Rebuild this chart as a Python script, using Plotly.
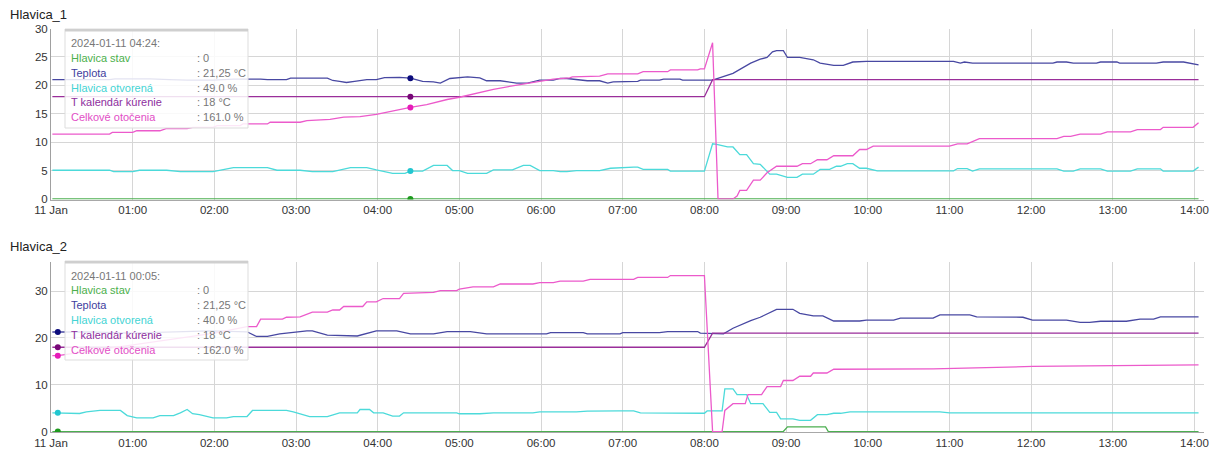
import plotly.graph_objects as go

DATE = "2024-01-11"
SERIES_NAMES = ["Hlavica stav", "Teplota", "Hlavica otvorená", "T kalendár kúrenie", "Celkové otočenia"]
TICK_TIMES = ["00:00", "01:00", "02:00", "03:00", "04:00", "05:00", "06:00", "07:00",
              "08:00", "09:00", "10:00", "11:00", "12:00", "13:00", "14:00"]
TICK_TEXT = ["11 Jan", "01:00", "02:00", "03:00", "04:00", "05:00", "06:00", "07:00",
             "08:00", "09:00", "10:00", "11:00", "12:00", "13:00", "14:00"]
X_START = "00:00"
X_END = "14:07"

# ---------------- Hlavica_1 ----------------
H1_STAV_T = ["00:01", "14:03"]
H1_STAV_V = [0, 0]

H1_TEPLOTA_T = ["00:01", "00:43", "00:47", "01:13", "01:27", "01:40", "01:59", "02:14", "02:34", "02:39",
                "02:53", "02:56", "03:23", "03:27", "03:32", "03:37", "03:43", "03:52", "03:59", "04:05",
                "04:16", "04:24", "04:33", "04:41", "04:46", "04:53", "05:06", "05:15", "05:20", "05:30",
                "05:42", "05:50", "05:59", "06:09", "06:14", "06:19", "06:34", "06:43", "06:49", "06:53",
                "07:11", "07:13", "07:27", "07:30", "07:42", "07:44", "08:06", "08:21", "08:34", "08:41",
                "08:46", "08:50", "08:53", "08:58", "09:01", "09:10", "09:20", "09:25", "09:35", "09:42",
                "09:49", "09:59", "11:03", "11:08", "11:11", "11:17", "12:16", "12:19", "12:26", "12:31",
                "12:48", "12:51", "13:03", "13:05", "13:32", "13:37", "13:52", "14:03"]
H1_TEPLOTA_V = [21.0, 21.0, 21.15, 21.15, 21.0, 20.9, 20.9, 21.1, 21.1, 21.0,
                21.0, 21.25, 21.25, 20.85, 20.7, 20.5, 20.7, 21.0, 21.0, 21.35,
                21.4, 21.25, 20.7, 20.6, 20.4, 21.2, 21.5, 21.3, 20.8, 20.8,
                20.4, 20.4, 20.9, 20.9, 21.2, 21.2, 20.8, 20.8, 20.4, 20.6,
                20.7, 20.9, 20.9, 21.1, 21.1, 20.9, 20.9, 22.1, 23.9, 24.6,
                24.9, 25.9, 26.1, 26.1, 24.9, 24.9, 24.5, 23.9, 23.5, 23.5,
                24.1, 24.2, 24.2, 23.9, 24.1, 23.9, 23.9, 24.1, 24.1, 23.9,
                23.9, 24.1, 24.1, 23.9, 23.9, 24.1, 24.1, 23.6]

H1_OTV_T = ["00:01", "00:43", "00:46", "01:00", "01:05", "01:25", "01:35", "01:59", "02:14", "02:39",
            "02:46", "03:03", "03:12", "03:27", "03:40", "03:52", "03:59", "04:11", "04:20", "04:24",
            "04:33", "04:41", "04:51", "04:55", "05:00", "05:06", "05:20", "05:25", "05:39", "05:47",
            "05:52", "05:59", "06:09", "06:14", "06:19", "06:26", "06:43", "06:51", "07:08", "07:11",
            "07:15", "07:33", "07:35", "08:00", "08:06", "08:09", "08:17", "08:21", "08:26", "08:31",
            "08:36", "08:41", "08:48", "08:53", "09:01", "09:08", "09:12", "09:20", "09:25", "09:32",
            "09:37", "09:40", "09:45", "09:49", "09:54", "09:59", "10:07", "11:03", "11:06", "11:13",
            "11:17", "11:22", "12:19", "12:24", "12:31", "12:36", "12:51", "12:56", "13:13", "13:18",
            "13:35", "13:37", "13:59", "14:03"]
H1_OTV_V = [5.05, 5.05, 4.8, 4.8, 5.05, 5.05, 4.8, 4.8, 5.5, 5.5,
            5.05, 5.05, 4.8, 4.8, 5.5, 5.5, 5.1, 4.5, 4.5, 4.9,
            4.9, 5.9, 5.9, 5.0, 5.0, 4.5, 4.5, 5.1, 5.1, 5.9,
            5.9, 5.0, 5.0, 4.8, 4.8, 5.0, 5.0, 5.4, 5.6, 5.6,
            5.2, 5.2, 4.9, 4.9, 9.7, 9.6, 9.15, 9.15, 7.8, 7.8,
            6.2, 6.1, 4.35, 4.35, 3.8, 3.8, 4.35, 4.35, 5.2, 5.2,
            5.75, 5.75, 6.2, 6.2, 5.4, 5.4, 4.95, 4.95, 5.35, 5.35,
            4.9, 5.3, 5.3, 4.9, 4.9, 5.3, 5.3, 4.9, 4.9, 5.3,
            5.3, 4.9, 4.9, 5.6]

H1_TKAL_T = ["00:01", "08:00", "08:06", "14:03"]
H1_TKAL_V = [18, 18, 21, 21]

H1_CELK_T = ["00:01", "00:43", "00:45", "01:00", "01:03", "01:20", "01:25", "01:40", "01:44", "01:59",
             "02:02", "02:19", "02:21", "02:39", "02:41", "03:03", "03:08", "03:25", "03:35", "03:47",
             "03:59", "04:09", "04:24", "04:36", "04:51", "05:00", "05:13", "05:25", "05:39", "05:54",
             "06:09", "06:21", "06:23", "06:43", "06:49", "07:11", "07:15", "07:33", "07:35", "07:55",
             "07:57", "08:00", "08:06", "08:10", "08:21", "08:24", "08:26", "08:31", "08:36", "08:41",
             "08:46", "08:53", "09:08", "09:12", "09:18", "09:23", "09:30", "09:35", "09:49", "09:54",
             "09:59", "10:04", "11:00", "11:06", "11:13", "11:22", "12:19", "12:24", "12:29", "12:36",
             "12:51", "12:56", "13:13", "13:18", "13:35", "13:37", "13:59", "14:03"]
H1_CELK_V = [11.4, 11.4, 11.7, 11.7, 12.0, 12.0, 12.4, 12.4, 12.6, 12.6,
             12.9, 12.9, 13.2, 13.2, 13.5, 13.5, 13.8, 14.0, 14.4, 14.5,
             14.9, 15.4, 16.1, 16.6, 17.5, 17.9, 18.6, 19.3, 19.9, 20.5,
             21.1, 21.3, 21.5, 21.6, 22.0, 22.0, 22.4, 22.4, 22.7, 22.7,
             22.9, 22.9, 27.5, 0.0, 0.0, 0.5, 1.5, 1.5, 3.3, 3.3,
             4.6, 5.75, 5.75, 6.2, 6.2, 6.9, 6.9, 7.6, 7.6, 8.7,
             8.7, 9.3, 9.3, 9.7, 9.7, 10.6, 10.6, 11.0, 11.0, 11.4,
             11.4, 11.8, 11.8, 12.2, 12.2, 12.6, 12.6, 13.4]

H1_HIGHLIGHT_TIME = "04:24"
H1_HIGHLIGHT_VALUES = [0, 21.25, 4.9, 18, 16.1]

# ---------------- Hlavica_2 ----------------
H2_STAV_T = ["00:01", "08:58", "09:01", "09:29", "09:31", "14:03"]
H2_STAV_V = [0, 0, 1, 1, 0, 0]

H2_TEPLOTA_T = ["00:01", "00:05", "00:29", "00:58", "01:27", "01:57", "02:24", "02:31", "02:39", "02:48",
                "03:08", "03:12", "03:23", "03:32", "03:45", "03:59", "04:14", "04:24", "04:41", "04:51",
                "05:08", "05:20", "06:04", "06:07", "06:31", "06:34", "06:58", "07:00", "07:27", "07:33",
                "07:55", "07:57", "08:04", "08:06", "08:14", "08:21", "08:34", "08:41", "08:53", "09:05",
                "09:10", "09:20", "09:27", "09:35", "09:54", "09:59", "10:19", "10:24", "10:48", "10:53",
                "11:15", "11:20", "11:47", "11:54", "12:01", "12:26", "12:36", "12:43", "12:51", "13:10",
                "13:20", "13:30", "13:35", "14:03"]
H2_TEPLOTA_V = [21.25, 21.25, 21.3, 21.0, 21.3, 21.5, 21.3, 20.3, 20.3, 20.85,
                21.5, 21.5, 20.6, 20.5, 20.4, 21.5, 21.5, 20.85, 20.85, 21.35,
                21.35, 20.85, 20.85, 21.1, 21.1, 20.85, 20.85, 21.1, 21.1, 21.35,
                21.35, 21.0, 21.0, 20.85, 20.85, 22.05, 23.7, 24.4, 26.1, 26.1,
                25.25, 24.7, 24.7, 23.6, 23.6, 23.8, 23.8, 24.2, 24.2, 24.9,
                24.9, 24.5, 24.5, 24.4, 23.8, 23.8, 23.3, 23.3, 23.55, 23.55,
                24.0, 24.0, 24.5, 24.5]

H2_OTV_T = ["00:01", "00:05", "00:21", "00:26", "00:36", "00:51", "00:56", "01:03", "01:15", "01:20",
            "01:30", "01:35", "01:40", "01:44", "01:49", "01:59", "02:09", "02:14", "02:24", "02:28",
            "02:53", "02:58", "03:03", "03:10", "03:23", "03:32", "03:45", "03:47", "03:54", "03:57",
            "04:04", "04:11", "04:16", "04:19", "04:58", "05:00", "05:15", "05:25", "05:54", "05:59",
            "06:26", "06:34", "06:58", "07:08", "07:13", "07:33", "07:35", "08:00", "08:02", "08:13",
            "08:15", "08:21", "08:24", "08:31", "08:34", "08:43", "08:48", "08:53", "08:56", "09:05",
            "09:10", "09:18", "09:23", "09:30", "09:35", "09:40", "09:47", "10:53", "11:00", "11:50",
            "12:01", "13:37", "13:38", "14:03"]
H2_OTV_V = [4.0, 4.0, 3.85, 4.2, 4.5, 4.5, 3.4, 2.9, 2.9, 3.4,
            3.4, 4.0, 4.7, 3.8, 3.6, 2.9, 2.9, 3.2, 3.2, 4.5,
            4.5, 4.2, 3.8, 3.2, 3.2, 4.0, 4.0, 4.7, 4.7, 4.0,
            4.0, 3.3, 3.3, 4.0, 4.0, 3.8, 3.8, 4.0, 4.0, 4.2,
            4.2, 4.35, 4.4, 4.4, 4.0, 4.0, 3.9, 3.9, 4.4, 4.4,
            9.1, 9.1, 7.9, 7.9, 5.95, 5.95, 4.1, 4.1, 2.7, 2.7,
            2.4, 2.4, 3.6, 3.6, 3.9, 3.9, 4.2, 4.2, 4.0, 4.0,
            4.05, 4.05, 4.0, 4.0]

H2_TKAL_T = ["00:01", "08:00", "08:06", "14:03"]
H2_TKAL_V = [18, 18, 21, 21]

H2_CELK_T = ["00:01", "00:05", "00:36", "01:00", "01:27", "02:00", "02:24", "02:31", "02:34", "02:50",
             "02:53", "02:58", "03:03", "03:12", "03:23", "03:27", "03:32", "03:35", "03:49", "03:52",
             "03:59", "04:04", "04:16", "04:19", "04:41", "04:46", "04:58", "05:00", "05:10", "05:25",
             "05:30", "05:54", "05:59", "06:09", "06:14", "06:31", "06:36", "07:08", "07:11", "07:33",
             "07:35", "08:00", "08:06", "08:13", "08:15", "08:21", "08:30", "08:32", "08:42", "08:46",
             "08:56", "08:58", "09:05", "09:10", "09:18", "09:20", "09:30", "09:35", "10:48", "12:01",
             "13:03", "14:03"]
H2_CELK_V = [16.2, 16.2, 17.5, 18.5, 19.5, 21.0, 22.4, 22.4, 24.0, 24.0,
             24.4, 24.4, 24.5, 25.5, 25.5, 25.95, 25.95, 26.7, 26.7, 27.7,
             27.7, 28.4, 28.4, 29.5, 29.7, 30.1, 30.1, 30.4, 30.9, 30.9,
             31.5, 31.5, 31.8, 31.8, 32.1, 32.1, 32.5, 32.5, 32.9, 32.9,
             33.3, 33.3, 0.0, 0.0, 4.5, 5.95, 5.95, 7.9, 7.9, 9.6,
             9.6, 10.9, 10.9, 11.8, 11.8, 12.5, 12.5, 13.3, 13.4, 13.9,
             14.05, 14.25]

H2_HIGHLIGHT_TIME = "00:05"
H2_HIGHLIGHT_VALUES = [0, 21.25, 4.0, 18, 16.2]

# ---------------- styling ----------------
LINE_COLORS = ["#4caf50", "#4848a2", "#4cdada", "#9a2e9a", "#ec5acb"]
MARKER_COLORS = ["#1e9a1e", "#0c0c7c", "#22c6d0", "#780878", "#e61cb8"]
TEXT_COLORS = ["#4cb04c", "#3e3e9e", "#44d4d4", "#8e2e9e", "#e24ec6"]
FONT = "Liberation Sans, Arial, sans-serif"
W, H = 1217, 449


def ts(t):
    return f"{DATE} {t}"


def fmt_values(v):
    return [
        f": {v[0]:g}",
        f": {v[1]:.2f} °C".replace(".", ","),
        f": {v[2] * 10:.1f} %",
        f": {v[3]:g} °C",
        f": {v[4] * 10:.1f} %",
    ]


charts = [
    dict(title="Hlavica_1", xa="x", ya="y",
         series=[(H1_STAV_T, H1_STAV_V), (H1_TEPLOTA_T, H1_TEPLOTA_V), (H1_OTV_T, H1_OTV_V),
                 (H1_TKAL_T, H1_TKAL_V), (H1_CELK_T, H1_CELK_V)],
         hl_time=H1_HIGHLIGHT_TIME, hl_vals=H1_HIGHLIGHT_VALUES,
         title_y=14, box=(65, 29, 248, 128), row0=43.3, rowstep=14.8),
    dict(title="Hlavica_2", xa="x2", ya="y2",
         series=[(H2_STAV_T, H2_STAV_V), (H2_TEPLOTA_T, H2_TEPLOTA_V), (H2_OTV_T, H2_OTV_V),
                 (H2_TKAL_T, H2_TKAL_V), (H2_CELK_T, H2_CELK_V)],
         hl_time=H2_HIGHLIGHT_TIME, hl_vals=H2_HIGHLIGHT_VALUES,
         title_y=246, box=(65, 261, 248, 360), row0=275.5, rowstep=14.9),
]

fig = go.Figure()
shapes = []
annotations = []


def px(x):
    return x / W


def py(y):
    return 1 - y / H


for ch in charts:
    for i, (tlist, vlist) in enumerate(ch["series"]):
        assert len(tlist) == len(vlist)
        fig.add_trace(go.Scatter(
            x=[ts(t) for t in tlist], y=vlist, mode="lines",
            line=dict(color=LINE_COLORS[i], width=1.3),
            xaxis=ch["xa"], yaxis=ch["ya"], showlegend=False, hoverinfo="skip"))
    for i, v in enumerate(ch["hl_vals"]):
        fig.add_trace(go.Scatter(
            x=[ts(ch["hl_time"])], y=[v], mode="markers",
            marker=dict(color=MARKER_COLORS[i], size=6, line=dict(width=0)),
            xaxis=ch["xa"], yaxis=ch["ya"], showlegend=False, hoverinfo="skip"))

    # title
    annotations.append(dict(text=ch["title"], x=px(8), y=py(ch["title_y"]), xref="paper", yref="paper",
                            xanchor="left", yanchor="middle", showarrow=False,
                            font=dict(family=FONT, size=13, color="#222")))
    # legend box
    x0, y0, x1, y1 = ch["box"]
    shapes.append(dict(type="rect", xref="paper", yref="paper", x0=px(x0), x1=px(x1), y0=py(y1), y1=py(y0),
                       fillcolor="rgba(255,255,255,0.85)", line=dict(color="#dddddd", width=1), layer="above"))
    shapes.append(dict(type="rect", xref="paper", yref="paper", x0=px(x0), x1=px(x1), y0=py(y0 + 2.5), y1=py(y0),
                       fillcolor="#cfcfcf", line=dict(width=0), layer="above"))
    annotations.append(dict(text=f"{DATE} {ch['hl_time']}:", x=px(69), y=py(ch["row0"]), xref="paper",
                            yref="paper", xanchor="left", yanchor="middle", showarrow=False,
                            font=dict(family=FONT, size=11, color="#777")))
    vals = fmt_values(ch["hl_vals"])
    for i, name in enumerate(SERIES_NAMES):
        yy = py(ch["row0"] + (i + 1) * ch["rowstep"])
        annotations.append(dict(text=name, x=px(69), y=yy, xref="paper", yref="paper",
                                xanchor="left", yanchor="middle", showarrow=False,
                                font=dict(family=FONT, size=11, color=TEXT_COLORS[i])))
        annotations.append(dict(text=vals[i], x=px(195), y=yy, xref="paper", yref="paper",
                                xanchor="left", yanchor="middle", showarrow=False,
                                font=dict(family=FONT, size=11, color="#777")))

xdom = [51 / W, 1204 / W]
common_x = dict(type="date", range=[ts(X_START), ts(X_END)], tickvals=[ts(t) for t in TICK_TIMES],
                ticktext=TICK_TEXT, showgrid=True, gridcolor="#d6d6d6", gridwidth=1, zeroline=False,
                showline=True, linecolor="#a8a8a8", linewidth=1, ticks="", automargin=False,
                tickfont=dict(family=FONT, size=11.5, color="#333"), domain=xdom)
common_y = dict(showgrid=True, gridcolor="#d6d6d6", gridwidth=1, zeroline=False, showline=True,
                linecolor="#a0a0a0", linewidth=1, ticks="", tick0=0, automargin=False,
                tickfont=dict(family=FONT, size=11.5, color="#333"))

fig.update_layout(
    template="none",
    width=W, height=H,
    margin=dict(l=0, r=0, t=0, b=0, pad=0, autoexpand=False),
    paper_bgcolor="white", plot_bgcolor="white",
    showlegend=False, hovermode=False,
    xaxis=dict(common_x, anchor="y"),
    yaxis=dict(common_y, anchor="x", domain=[py(199.5), py(28.5)], range=[-0.1, 30], dtick=5),
    xaxis2=dict(common_x, anchor="y2"),
    yaxis2=dict(common_y, anchor="x2", domain=[py(432), py(262)], range=[-0.1, 36.2], dtick=10),
    shapes=shapes, annotations=annotations,
)

fig.write_html("out.html", config={"displayModeBar": False, "staticPlot": True},
               post_script="document.body.style.margin='0';document.body.style.overflow='hidden';")
